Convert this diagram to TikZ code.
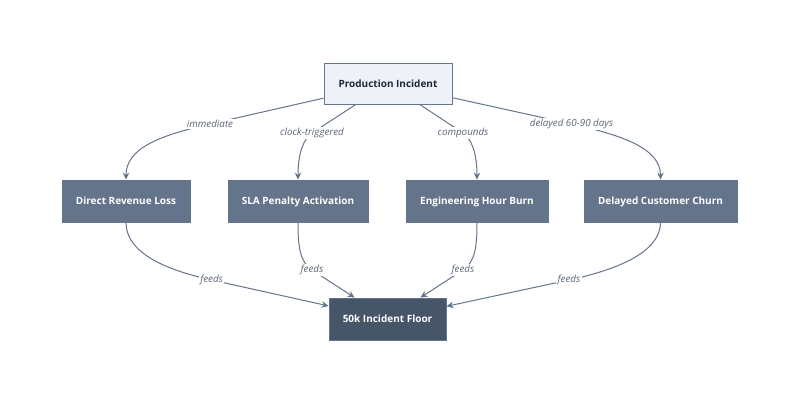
\documentclass[tikz,border=0pt]{standalone}
\usepackage{fontspec}
\setmainfont{Open Sans}
\usetikzlibrary{arrows.meta}
\definecolor{slate}{HTML}{64748B}
\definecolor{slatedark}{HTML}{475569}
\definecolor{topfill}{HTML}{EEF2F8}
\definecolor{inktext}{HTML}{1E293B}
\definecolor{labtext}{HTML}{5B6678}
\tikzset{
  boxbase/.style={rectangle, inner xsep=4pt, inner ysep=0pt, text height=7.3pt, text depth=0pt, font=\fontsize{10}{12}\selectfont\bfseries, line width=0.8pt},
  topbox/.style={boxbase, fill=topfill, draw=slate, text=inktext, minimum height=41pt},
  midbox/.style={boxbase, fill=slate, draw=slate, text=white, minimum height=42pt},
  botbox/.style={boxbase, fill=slatedark, draw=slate, text=white, minimum height=42pt},
  edge/.style={draw=slate, line width=1pt, -{Stealth[length=7pt,width=6.5pt]}},
  elabel/.style={fill=white, inner sep=1.2pt, text=labtext, font=\fontsize{9.8}{11}\selectfont\itshape}
}
\begin{document}
\begin{tikzpicture}[x=1pt,y=-1pt]
\useasboundingbox (0,0) rectangle (800,404);
% nodes
\node[topbox, minimum width=128pt] (top) at (388,83.5) {Production Incident};
\node[midbox, minimum width=128pt] (dr) at (126,201) {Direct Revenue Loss};
\node[midbox, minimum width=140pt] (sla) at (298,201) {SLA Penalty Activation};
\node[midbox, minimum width=142pt] (ehb) at (477,201) {Engineering Hour Burn};
\node[midbox, minimum width=153pt] (dcc) at (660.5,201) {Delayed Customer Churn};
\node[botbox, minimum width=117pt] (bot) at (387.5,319) {50k Incident Floor};
% label points
\coordinate (l1) at (210,124);
\coordinate (l2) at (312,133);
\coordinate (l3) at (463,133);
\coordinate (l4) at (571.5,124);
\coordinate (l5) at (211.6,280);
\coordinate (l6) at (312,270);
\coordinate (l7) at (463,270);
\coordinate (l8) at (569,280);
% top edges
\draw[edge] (top) -- (l1) .. controls (160,135.4) and (126,148) .. (dr.north);
\draw[edge] (top) -- (l2) .. controls (304,138.5) and (298,152) .. (sla.north);
\draw[edge] (top) -- (l3) .. controls (471,138.5) and (477,152) .. (ehb.north);
\draw[edge] (top) -- (l4) .. controls (621,135) and (660.5,148) .. (dcc.north);
% bottom edges
\draw[edge] (dr.south) .. controls (126,252) and (162.7,269.2) .. (l5) -- (bot);
\draw[edge] (sla.south) .. controls (298,245) and (299.4,261.8) .. (l6) -- (bot);
\draw[edge] (ehb.south) .. controls (477,245) and (475.6,261.8) .. (l7) -- (bot);
\draw[edge] (dcc.south) .. controls (660.5,252) and (617.9,269.5) .. (l8) -- (bot);
% labels
\node[elabel] (t1) at (l1) {immediate};
\node[elabel] (t2) at (l2) {clock-triggered};
\node[elabel] (t3) at (l3) {compounds};
\node[elabel] (t4) at (l4) {delayed 60-90 days};
\node[elabel] (t5) at (l5) {feeds};
\node[elabel] (t6) at (l6) {feeds};
\node[elabel] (t7) at (l7) {feeds};
\node[elabel] (t8) at (l8) {feeds};
\end{tikzpicture}
\end{document}
